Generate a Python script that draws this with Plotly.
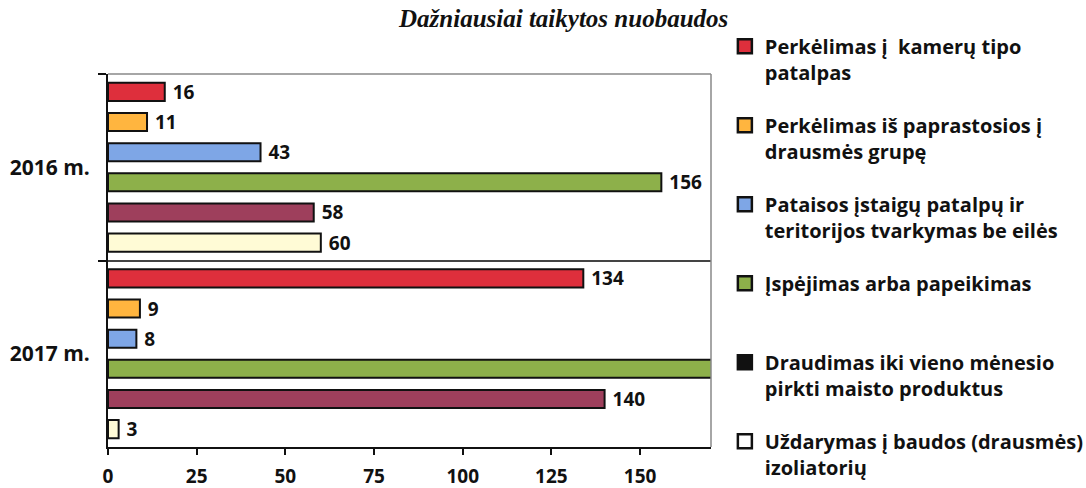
import plotly.graph_objects as go

categories = ["2016 m.", "2017 m."]
series_names = [
    "Perkėlimas į  kamerų tipo<br>patalpas",
    "Perkėlimas iš paprastosios į<br>drausmės grupę",
    "Pataisos įstaigų patalpų ir<br>teritorijos tvarkymas be eilės",
    "Įspėjimas arba papeikimas<br> ",
    "Draudimas iki vieno mėnesio<br>pirkti maisto produktus",
    "Uždarymas į baudos (drausmės)<br>izoliatorių",
]
v_kameru = [16, 134]
v_drausmes_grupe = [11, 9]
v_tvarkymas = [43, 8]
v_ispejimas = [156, 172]
v_draudimas = [58, 140]
v_uzdarymas = [60, 3]
series_values = [v_kameru, v_drausmes_grupe, v_tvarkymas, v_ispejimas, v_draudimas, v_uzdarymas]
x_ticks = [0, 25, 50, 75, 100, 125, 150]
x_max = 170

bar_colors = ["#DE2F3C", "#FFB53F", "#7EA6E6", "#8DB04A", "#9E3F5C", "#FFFBD6"]
legend_colors = ["#DE2F3C", "#FFB53F", "#7EA6E6", "#8DB04A", "#111111", "#FFFFFF"]

FONT = "Open Sans"
fig = go.Figure()
for name, vals, col in zip(series_names, series_values, bar_colors):
    fig.add_trace(go.Bar(
        y=categories, x=vals, orientation="h", name=name,
        marker=dict(color=col, line=dict(color="#111111", width=2)),
        text=[(" " + str(v)) if v <= x_max else "" for v in vals],
        textposition="outside", constraintext="none",
        textfont=dict(family=FONT, size=19, color="#111111", weight="bold"),
        showlegend=False,
    ))
for i, (name, col) in enumerate(zip(series_names, legend_colors)):
    fig.add_trace(go.Scatter(
        y=[None], x=[None], mode="markers", name=name,
        marker=dict(symbol="square", size=14, color=col,
                    line=dict(color="#111111", width=2.5)),
        legendgroup=f"g{i}", showlegend=True,
    ))

fig.update_layout(
    width=1086, height=488,
    margin=dict(l=108, r=375, t=74, b=41, autoexpand=False),
    paper_bgcolor="white", plot_bgcolor="white",
    barmode="group", bargap=0.03, bargroupgap=0.4,
    showlegend=True,
    legend=dict(
        x=1.023, y=1.127, xanchor="left", yanchor="top",
        font=dict(family=FONT, size=20, color="#111111", weight="bold"),
        traceorder="grouped", tracegroupgap=24, valign="top",
        itemwidth=30, bgcolor="rgba(0,0,0,0)", maxheight=600,
    ),
    xaxis=dict(
        range=[0, x_max], tickvals=x_ticks, showgrid=False, zeroline=False,
        showline=True, linecolor="#111111", linewidth=2, automargin=False,
        ticks="outside", ticklen=6, tickcolor="#111111", tickwidth=2,
        ticklabelstandoff=5,
        tickfont=dict(family=FONT, size=19, color="#111111", weight="bold"),
    ),
    yaxis=dict(
        autorange="reversed", showgrid=True, gridcolor="#444444", gridwidth=1.5,
        tickson="boundaries", ticks="outside", ticklen=8, tickcolor="#111111", tickwidth=2,
        showline=True, linecolor="#111111", linewidth=2, automargin=False,
        ticklabelstandoff=12,
        tickfont=dict(family=FONT, size=21, color="#111111", weight="bold"),
    ),
    shapes=[
        dict(type="line", xref="paper", yref="paper", x0=1, x1=1, y0=0, y1=1,
             line=dict(color="#888888", width=1.5)),
        dict(type="line", xref="paper", yref="paper", x0=0, x1=1, y0=1, y1=1,
             line=dict(color="#888888", width=1.5)),
    ],
    annotations=[dict(
        text="Dažniausiai taikytos nuobaudos", xref="paper", yref="paper",
        x=0.755, y=1.150, xanchor="center", yanchor="middle", showarrow=False,
        font=dict(family="Liberation Serif", size=25, color="#111111",
                  weight="bold", style="italic"),
    )],
)

fig.write_html("out.html", config={"displayModeBar": False},
               post_script="document.body.style.margin='0';document.body.style.overflow='hidden';")
